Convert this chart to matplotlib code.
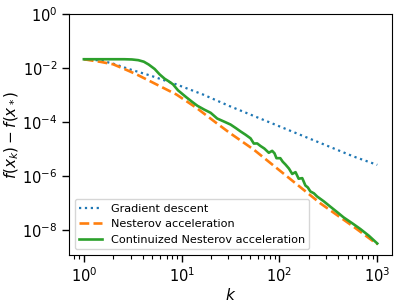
import numpy as np
import matplotlib
matplotlib.use("Agg")
import matplotlib.pyplot as plt
from matplotlib.ticker import NullLocator

# values
k_gd = [1, 1.5, 2, 2.94, 4.71, 8.83, 16.5, 30.9, 120, 262, 573, 1000]
f_gd = [0.0212, 0.019, 0.0145, 0.0090, 0.00537, 0.00248, 0.00105,
        3.9e-4, 5.3e-5, 1.68e-5, 5.3e-6, 2.6e-6]

k_nest = [1, 1.15, 1.5, 1.99, 2.6, 3.45, 5.52, 8.83, 14.1, 22.6, 30.9, 54.7,
          120, 262, 573, 1000]
f_nest = [0.0212, 0.0195, 0.0168, 0.0138, 0.0092, 0.00585, 0.00248, 0.00105,
          3.4e-4, 9.3e-5, 4.0e-5, 9.5e-6, 9.6e-7, 9.8e-8, 1.33e-8, 3.0e-9]

k_cont = [1, 2.6, 3.1, 3.6, 4.1, 4.6, 5.3, 5.96, 6.71, 7.4, 8.15, 9.17, 11.2,
          12.8, 14.5, 17, 19.8, 23.1, 27, 31.6, 36, 40.0, 45, 50.6, 54.7,
          59.2, 64.0, 70, 77.8, 84.2, 88.9, 93.2, 102, 108, 115, 125, 135,
          146, 157, 171, 184, 195, 207, 225, 243, 285, 331, 390, 453, 560,
          671, 820, 1000]
f_cont = [0.0212, 0.0212, 0.0208, 0.0196, 0.0172, 0.0135, 0.0092, 0.0058,
          0.0040, 0.0032, 0.0025, 0.00150, 8.2e-4, 5.6e-4, 4.0e-4, 2.9e-4,
          2.2e-4, 1.35e-4, 1.05e-4, 8.1e-5, 5.9e-5, 4.5e-5, 3.4e-5, 2.5e-5,
          1.6e-5, 1.62e-5, 1.3e-5, 1.05e-5, 7.3e-6, 8.6e-6, 7.0e-6, 4.6e-6,
          4.6e-6, 3.4e-6, 2.7e-6, 1.9e-6, 1.2e-6, 1.4e-6, 8.0e-7, 8.4e-7,
          4.5e-7, 3.8e-7, 2.7e-7, 2.3e-7, 1.75e-7, 1.15e-7, 7.4e-8, 4.6e-8,
          2.95e-8, 1.75e-8, 1.1e-8, 6.2e-9, 3.2e-9]

fig = plt.figure(figsize=(4.07, 3.05), dpi=100)
ax = fig.add_axes([0.170, 0.164, 0.793, 0.790])

ax.loglog(k_gd, f_gd, ':', color='C0', lw=1.6, label='Gradient descent')
ax.loglog(k_nest, f_nest, '--', color='C1', lw=1.9, label='Nesterov acceleration')
ax.loglog(k_cont, f_cont, '-', color='C2', lw=1.9,
          label='Continuized Nesterov acceleration')

ax.set_ylim(1.2e-9, 1)
ax.set_yticks([1, 1e-2, 1e-4, 1e-6, 1e-8])
ax.yaxis.set_minor_locator(NullLocator())
ax.tick_params(which='major', labelsize=10.5, length=5, width=1)
ax.tick_params(which='minor', length=3, width=0.8)

ax.set_xlabel('$k$', fontsize=11, labelpad=1)
ax.set_ylabel('$f(x_k) - f(x_*)$', fontsize=11, labelpad=1)
ax.legend(loc='lower left', fontsize=8.1)

fig.savefig('out.png', dpi=100)
